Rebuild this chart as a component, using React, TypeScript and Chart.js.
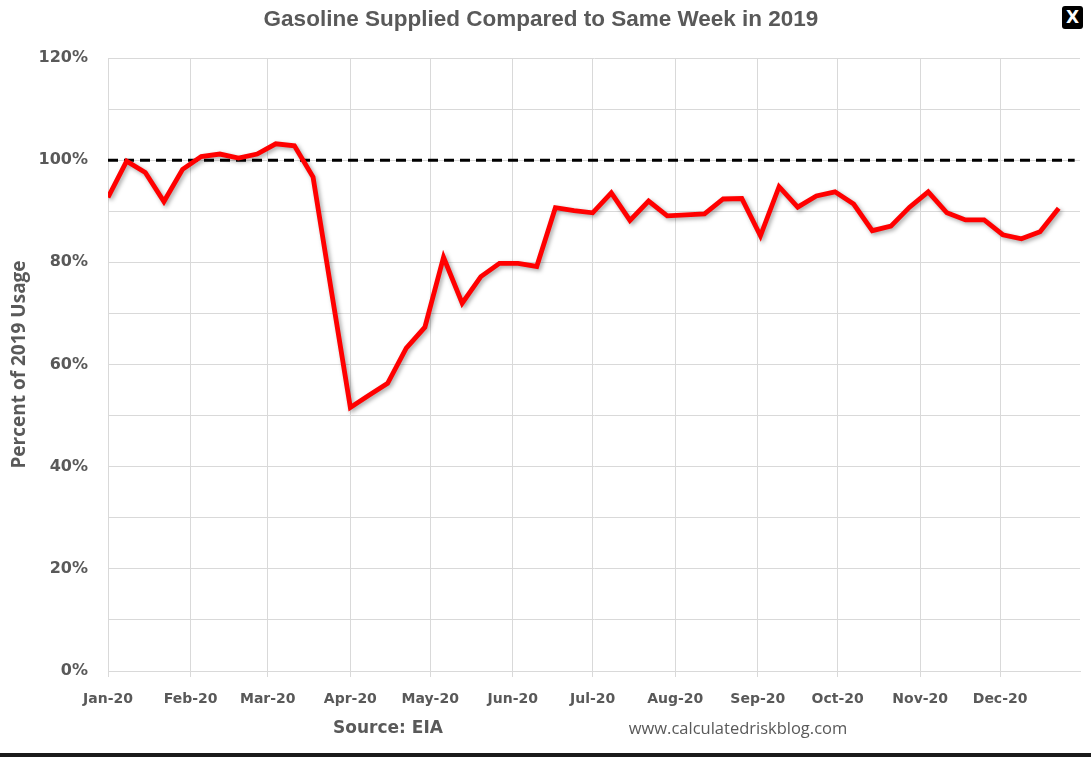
import React, { useEffect, useRef } from "react";
import { Chart, registerables } from "chart.js";

Chart.register(...registerables);

const TITLE = "Gasoline Supplied Compared to Same Week in 2019";
const Y_TITLE = "Percent of 2019 Usage";
const SOURCE = "Source: EIA";
const SITE = "www.calculatedriskblog.com";

const monthStarts = [
  "2020-01-01", "2020-02-01", "2020-03-01", "2020-04-01", "2020-05-01", "2020-06-01",
  "2020-07-01", "2020-08-01", "2020-09-01", "2020-10-01", "2020-11-01", "2020-12-01",
];
const monthLabels = [
  "Jan-20", "Feb-20", "Mar-20", "Apr-20", "May-20", "Jun-20",
  "Jul-20", "Aug-20", "Sep-20", "Oct-20", "Nov-20", "Dec-20",
];
const axisStart = "2020-01-01";
const axisEnd = "2020-12-31";

const weekDates = [
  "2020-01-01", "2020-01-08", "2020-01-15", "2020-01-22", "2020-01-29",
  "2020-02-05", "2020-02-12", "2020-02-19", "2020-02-26",
  "2020-03-04", "2020-03-11", "2020-03-18", "2020-03-25",
  "2020-04-01", "2020-04-08", "2020-04-15", "2020-04-22", "2020-04-29",
  "2020-05-06", "2020-05-13", "2020-05-20", "2020-05-27",
  "2020-06-03", "2020-06-10", "2020-06-17", "2020-06-24",
  "2020-07-01", "2020-07-08", "2020-07-15", "2020-07-22", "2020-07-29",
  "2020-08-05", "2020-08-12", "2020-08-19", "2020-08-26",
  "2020-09-02", "2020-09-09", "2020-09-16", "2020-09-23", "2020-09-30",
  "2020-10-07", "2020-10-14", "2020-10-21", "2020-10-28",
  "2020-11-04", "2020-11-11", "2020-11-18", "2020-11-25",
  "2020-12-02", "2020-12-09", "2020-12-16", "2020-12-23",
];
const pctOf2019 = [
  92.7, 99.8, 97.6, 91.9, 98.2,
  100.7, 101.2, 100.4, 101.2,
  103.2, 102.8, 96.7, 74.0,
  51.6, 54.0, 56.3, 63.2, 67.3,
  81.0, 72.0, 77.2, 79.8,
  79.8, 79.2, 90.7, 90.1,
  89.7, 93.6, 88.2, 92.0, 89.1,
  89.3, 89.5, 92.4, 92.5,
  85.2, 94.8, 90.8, 93.0, 93.8,
  91.4, 86.2, 87.1, 90.8,
  93.8, 89.7, 88.3, 88.3,
  85.4, 84.6, 86.0, 90.6,
];
const refDates = ["2020-01-01", "2020-12-29"];
const refValues = [100, 100];

const yMin = 0;
const yMax = 120;
const yGridStep = 10;
const yLabelStep = 20;

const dayOf = (s: string) => {
  const [y, m, d] = s.split("-").map(Number);
  return (Date.UTC(y, m - 1, d) - Date.UTC(2020, 0, 1)) / 86400000;
};

const GRAY = "#595959";
const GRID = "#d9d9d9";

const shadowPlugin = {
  id: "lineShadow",
  beforeDatasetDraw(chart: any, args: any) {
    if (args.index === 0) {
      const ctx = chart.ctx;
      ctx.save();
      ctx.shadowColor = "rgba(0,0,0,0.35)";
      ctx.shadowBlur = 4;
      ctx.shadowOffsetX = 2;
      ctx.shadowOffsetY = 2;
    }
  },
  afterDatasetDraw(chart: any, args: any) {
    if (args.index === 0) chart.ctx.restore();
  },
};

export default function App() {
  const ref = useRef<HTMLCanvasElement | null>(null);

  useEffect(() => {
    if (!ref.current) return;
    const monthDays = monthStarts.map(dayOf);
    const chart = new Chart(ref.current, {
      type: "line",
      data: {
        datasets: [
          {
            label: "Gasoline",
            data: weekDates.map((d, i) => ({ x: dayOf(d), y: pctOf2019[i] })),
            borderColor: "#ff0000",
            borderWidth: 4.8,
            pointRadius: 0,
            tension: 0,
            borderJoinStyle: "miter",
            fill: false,
          },
          {
            label: "2019",
            data: refDates.map((d, i) => ({ x: dayOf(d), y: refValues[i] })),
            borderColor: "#000000",
            borderWidth: 3,
            borderDash: [10, 6],
            pointRadius: 0,
            fill: false,
          },
        ],
      },
      options: {
        responsive: false,
        animation: false,
        devicePixelRatio: 1,
        layout: { padding: { top: 58, right: 11, left: 0, bottom: 0 } },
        plugins: { legend: { display: false }, tooltip: { enabled: false }, title: { display: false } },
        scales: {
          x: {
            type: "linear",
            min: dayOf(axisStart),
            max: dayOf(axisEnd),
            afterFit: (s: any) => { s.height = 86; },
            afterBuildTicks: (s: any) => { s.ticks = monthDays.map((v) => ({ value: v })); },
            ticks: {
              autoSkip: false,
              maxRotation: 0,
              padding: 14,
              color: GRAY,
              font: { family: "'DejaVu Sans'", size: 14, weight: "bold" },
              callback: (v: any) => {
                const i = monthDays.indexOf(Number(v));
                return i >= 0 ? monthLabels[i] : "";
              },
            },
            grid: { color: GRID, lineWidth: 1, drawTicks: true, tickLength: 6, tickColor: GRID },
            border: { color: GRID, width: 1 },
          },
          y: {
            type: "linear",
            min: yMin,
            max: yMax,
            afterFit: (s: any) => { s.width = 108; },
            ticks: {
              stepSize: yGridStep,
              padding: 20,
              color: GRAY,
              font: { family: "'DejaVu Sans'", size: 16, weight: "bold" },
              callback: (v: any) => (Number(v) % yLabelStep === 0 ? `${v}%` : ""),
            },
            grid: { color: GRID, lineWidth: 1, drawTicks: false },
            border: { color: GRID, width: 1 },
            title: {
              display: true,
              text: Y_TITLE,
              color: GRAY,
              padding: { top: 8, bottom: 0 },
              font: { family: "'Open Sans'", size: 19, weight: "bold" },
            },
          },
        },
      },
      plugins: [shadowPlugin],
    });
    return () => chart.destroy();
  }, []);

  return (
    <div style={{ position: "absolute", left: 0, top: 0, width: 1091, height: 757, background: "#fff", overflow: "hidden" }}>
      <canvas ref={ref} width={1091} height={757} style={{ position: "absolute", left: 0, top: 0 }} />
      <div style={{ position: "absolute", left: 0, width: 1082, top: 5, textAlign: "center", color: GRAY, fontFamily: "'Liberation Sans Narrow', 'Liberation Sans'", fontWeight: "bold", fontSize: 22.5, lineHeight: "28px" }}>
        {TITLE}
      </div>
      <div style={{ position: "absolute", left: 1062, top: 6, width: 21, height: 23, background: "#000", borderRadius: 3, color: "#fff", fontFamily: "'DejaVu Sans'", fontWeight: "bold", fontSize: 17, lineHeight: "23px", textAlign: "center" }}>
        X
      </div>
      <div style={{ position: "absolute", left: 288, width: 200, top: 715, textAlign: "center", color: GRAY, fontFamily: "'DejaVu Sans'", fontWeight: "bold", fontSize: 17, lineHeight: "24px" }}>
        {SOURCE}
      </div>
      <div style={{ position: "absolute", left: 588, width: 300, top: 716, textAlign: "center", color: GRAY, fontFamily: "'Open Sans'", fontSize: 16.5, lineHeight: "24px" }}>
        {SITE}
      </div>
      <div style={{ position: "absolute", left: 0, top: 753, width: 1091, height: 4, background: "#1a1a1a" }} />
    </div>
  );
}
